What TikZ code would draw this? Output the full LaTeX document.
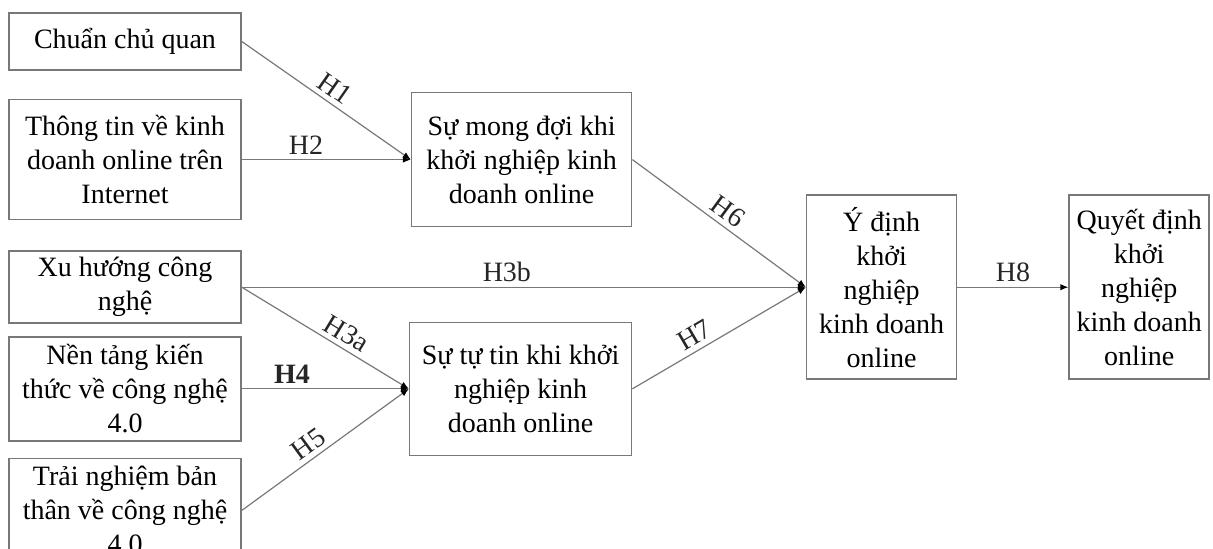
\documentclass[tikz,border=0pt]{standalone}
\usepackage{fontspec}
\setmainfont{Liberation Serif}
\usepackage{tikz}
\usetikzlibrary{arrows.meta}
\usetikzlibrary{positioning}

\definecolor{linegray}{RGB}{120,120,120}

\begin{document}
\begin{tikzpicture}[
    x=0.5pt, y=-0.5pt,
    font=\fontsize{14}{17}\selectfont,
    box/.style={draw=linegray, line width=0.8pt, rectangle, align=center, inner sep=0pt},
    arr/.style={draw=linegray, line width=0.6pt, -{Latex[length=4pt,width=3.2pt,color=black]}},
    lbl/.style={inner sep=2.5pt, text=black!85}
]

    \useasboundingbox (0,0) rectangle (1213,548);

    % Left column: the factors
    \node[box, minimum width=116pt, minimum height=28.5pt] (chuan) at (125,41.5) {Chuẩn chủ quan};
    \node[box, minimum width=116pt, minimum height=60pt, below=14pt of chuan] (thongtin) {Thông tin về kinh\\doanh online trên\\Internet};
    \node[box, minimum width=116pt, minimum height=36pt, below=15pt of thongtin] (xuhuong) {Xu hướng công\\nghệ};
    \node[box, minimum width=116pt, minimum height=52pt, below=6pt of xuhuong] (nentang) {Nền tảng kiến\\thức về công nghệ\\4.0};
    \node[box, minimum width=116pt, minimum height=52pt, below=8pt of nentang] (trainghiem) {Trải nghiệm bản\\thân về công nghệ\\4.0};

    % Middle column
    \node[box, minimum width=110pt, minimum height=67pt, right=84.5pt of thongtin] (mongdoi) {Sự mong đợi khi\\khởi nghiệp kinh\\doanh online};
    \node[box, minimum width=111pt, minimum height=66.5pt, right=83.5pt of nentang] (tutin) {Sự tự tin khi khởi\\nghiệp kinh\\doanh online};

    % Right: intention and decision
    \node[box, minimum width=75pt, minimum height=92pt, right=282pt of xuhuong] (ydinh) {Ý định\\khởi\\nghiệp\\kinh doanh\\online};
    \node[box, minimum width=70pt, minimum height=92pt, right=55.5pt of ydinh] (quyetdinh) {Quyết định\\khởi\\nghiệp\\kinh doanh\\online};

    % Hypotheses
    \draw[arr] (chuan.east) -- node[lbl, sloped, above, pos=0.5] {H1} (mongdoi.west);
    \draw[arr] (thongtin.east) -- node[lbl, above, pos=0.38] {H2} (mongdoi.west);
    \draw[arr] (xuhuong.east) -- node[lbl, above, pos=0.47] {H3b} (ydinh.west);
    \draw[arr] (xuhuong.east) -- node[lbl, sloped, above, pos=0.58] {H3a} (tutin.west);
    \draw[arr] (nentang.east) -- node[lbl, above, pos=0.3] {\textbf{H4}} (tutin.west);
    \draw[arr] (trainghiem.east) -- node[lbl, sloped, above, pos=0.45] {H5} (tutin.west);
    \draw[arr] (mongdoi.east) -- node[lbl, sloped, above, pos=0.5] {H6} (ydinh.west);
    \draw[arr] (tutin.east) -- node[lbl, sloped, above, pos=0.4] {H7} (ydinh.west);
    \draw[arr] (ydinh.east) -- node[lbl, above, pos=0.5] {H8} (quyetdinh.west);

\end{tikzpicture}
\end{document}
